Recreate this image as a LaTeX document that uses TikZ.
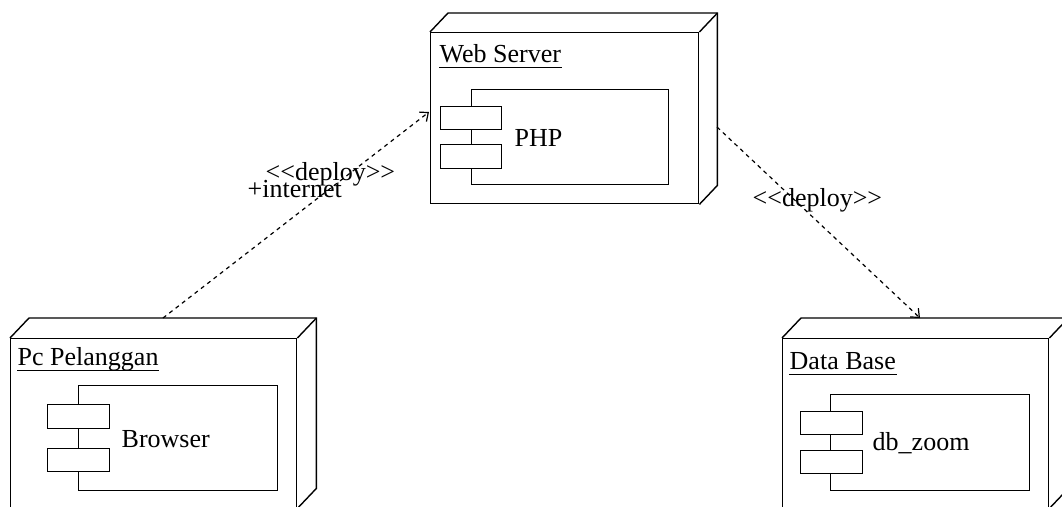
\documentclass[tikz,border=0pt]{standalone}
\usepackage{fontspec}
\setmainfont{Liberation Serif}
\usetikzlibrary{arrows.meta}
\newcommand{\dlt}{\mbox{<}\mbox{<}}
\newcommand{\dgt}{\mbox{>}\mbox{>}}
\begin{document}
\begin{tikzpicture}[x=1pt,y=-1pt,
  line width=1.4pt,
  face/.style={draw, anchor=north west, inner sep=0pt, minimum width=#1},
  comp/.style={draw, fill=white, anchor=north west, inner sep=0pt},
  txt/.style={anchor=base west, inner sep=0pt, font=\fontsize{26}{29}\selectfont},
  dep/.style={dashed, dash pattern=on 4pt off 4pt, line width=1.2pt, -{Straight Barb[length=7pt,width=12pt,line width=1.2pt]}}
]
\useasboundingbox (0,0) rectangle (1062,506);
\clip (0,0) rectangle (1062,506);
\fill[white] (0,0) rectangle (1062,506);

% ---------- Web Server ----------
\node[face=268pt, minimum height=171pt] (ws) at (430,32) {};
\draw (ws.north west) -- ++(18,-19) -| ([shift={(18,-19)}]ws.south east) -- (ws.south east);
\draw (ws.north east) -- ++(18,-19);
\node[comp, minimum width=197pt, minimum height=95pt] (php) at (471,89) {};
\node[comp, minimum width=61pt, minimum height=23pt] (phpa) at (440,106) {};
\node[comp, minimum width=61pt, minimum height=24pt] (phpb) at (440,144) {};
\node[txt] (phpt) at (514,146) {PHP};
\node[txt] (wsl) at (439,62) {Web Server};
\draw[line width=1pt] ([yshift=-5pt]wsl.base west) -- ([yshift=-5pt]wsl.base east);

% ---------- Pc Pelanggan ----------
\node[face=286pt, minimum height=169pt] (pc) at (10,338) {};
\draw (pc.north west) -- ++(19,-20) -| ([shift={(19,-20)}]pc.south east) -- (pc.south east);
\draw (pc.north east) -- ++(19,-20);
\node[comp, minimum width=199pt, minimum height=105pt] (br) at (78,385) {};
\node[comp, minimum width=62pt, minimum height=24pt] (bra) at (47,404) {};
\node[comp, minimum width=62pt, minimum height=23pt] (brb) at (47,448) {};
\node[txt] (brt) at (121,447) {Browser};
\node[txt] (pcl) at (17,365) {Pc Pelanggan};
\draw[line width=1pt] ([yshift=-5pt]pcl.base west) -- ([yshift=-5pt]pcl.base east);

% ---------- Data Base ----------
\node[face=266pt, minimum height=169pt] (db) at (782,338) {};
\draw (db.north west) -- ++(19,-20) -| ([shift={(19,-20)}]db.south east) -- (db.south east);
\draw (db.north east) -- ++(19,-20);
\node[comp, minimum width=199pt, minimum height=96pt] (dbz) at (830,394) {};
\node[comp, minimum width=62pt, minimum height=23pt] (dba) at (800,411) {};
\node[comp, minimum width=62pt, minimum height=23pt] (dbb) at (800,450) {};
\node[txt] (dbt) at (872,450) {db\_zoom};
\node[txt] (dbl) at (789,369) {Data Base};
\draw[line width=1pt] ([yshift=-5pt]dbl.base west) -- ([yshift=-5pt]dbl.base east);

% ---------- connectors ----------
\coordinate (pcTop) at (163,318);
\coordinate (wsLeft) at (429,112);
\coordinate (wsRight) at (717,127);
\coordinate (dbTop) at (920,318);
\draw[dep] (pcTop) -- (wsLeft);
\draw[dep] (wsRight) -- (dbTop);

\node[txt] (l1) at (265,180) {\dlt deploy\dgt};
\node[txt] (l2) at (247,197) {+internet};
\node[txt] (l3) at (752,206) {\dlt deploy\dgt};
\end{tikzpicture}
\end{document}
